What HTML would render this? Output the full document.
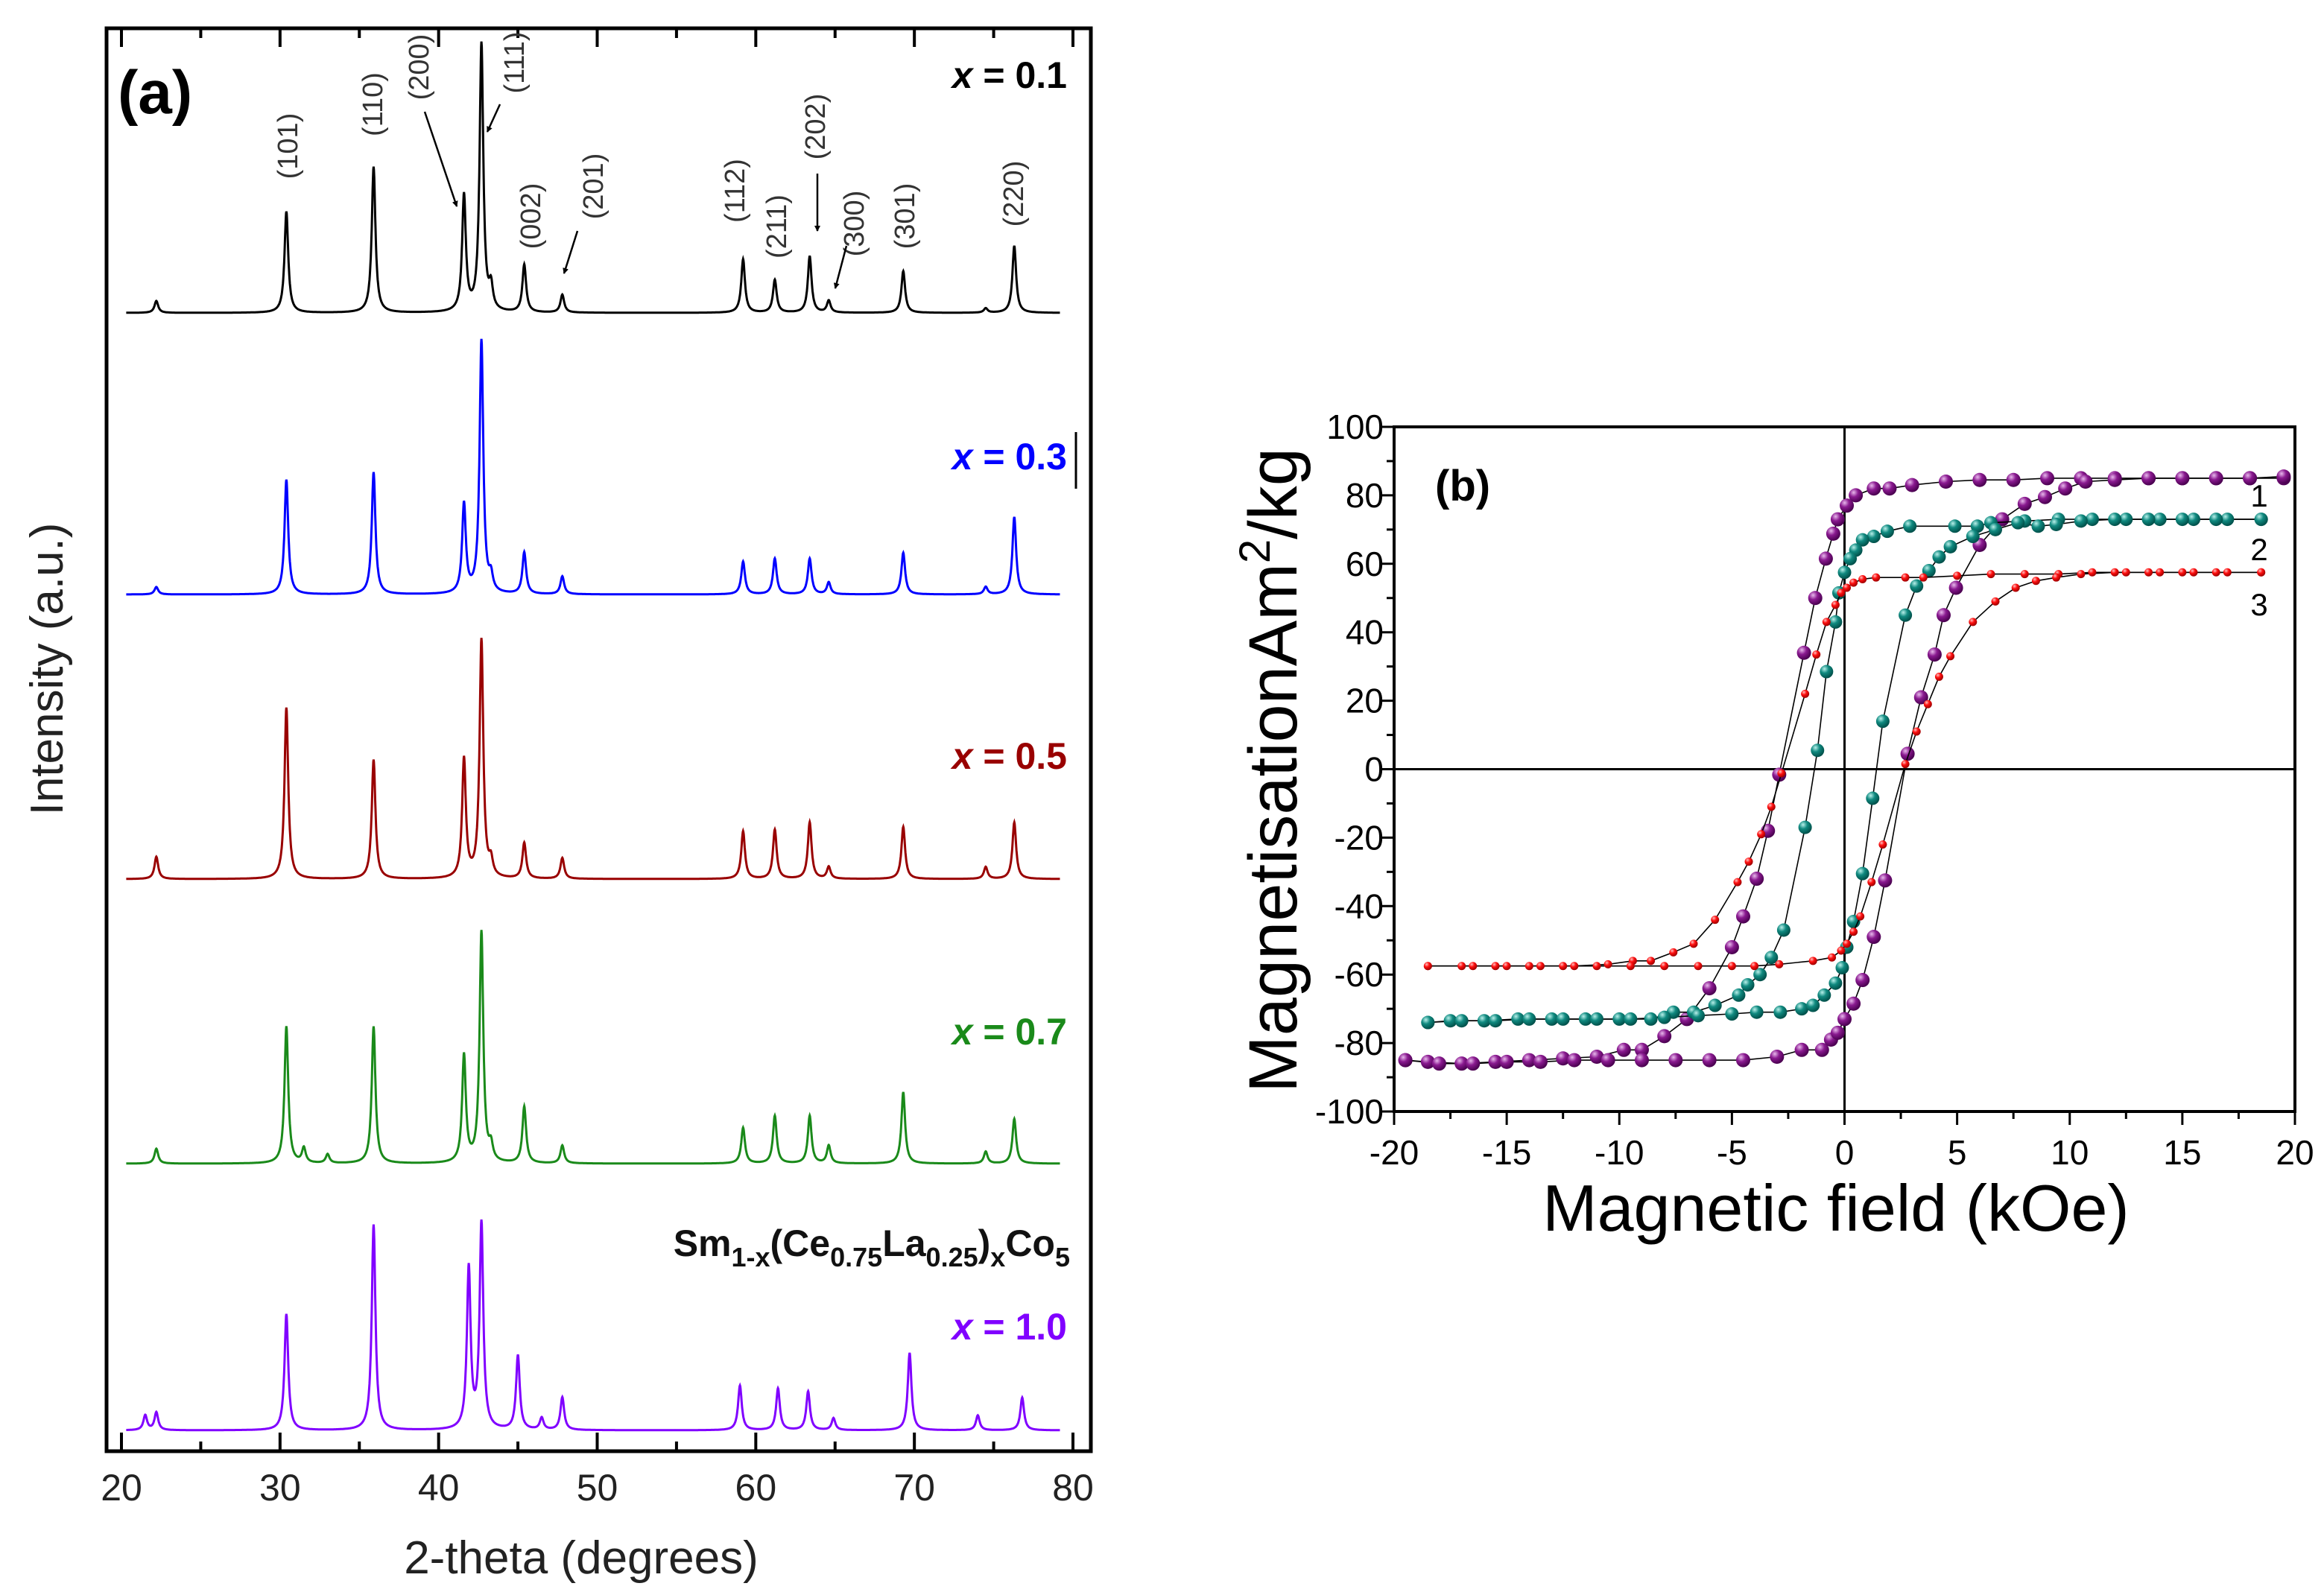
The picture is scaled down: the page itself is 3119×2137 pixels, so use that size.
<!DOCTYPE html>
<html><head><meta charset="utf-8"><style>
html,body{margin:0;padding:0;background:#fff;}
svg{display:block;font-family:"Liberation Sans",Arial,sans-serif;}
</style></head><body>
<svg id="fig" width="3119" height="2137" viewBox="0 0 3119 2137" xmlns="http://www.w3.org/2000/svg">
<defs>
<radialGradient id="gP" cx="35%" cy="30%" r="70%"><stop offset="0" stop-color="#e8b8ec"/><stop offset="0.45" stop-color="#8a1a90"/><stop offset="1" stop-color="#4a0050"/></radialGradient>
<radialGradient id="gT" cx="35%" cy="30%" r="70%"><stop offset="0" stop-color="#b8f0ea"/><stop offset="0.45" stop-color="#108a80"/><stop offset="1" stop-color="#00504a"/></radialGradient>
<radialGradient id="gR" cx="35%" cy="30%" r="70%"><stop offset="0" stop-color="#ffc0c0"/><stop offset="0.45" stop-color="#ff1010"/><stop offset="1" stop-color="#a00000"/></radialGradient>
<marker id="ah" markerWidth="8" markerHeight="8" refX="7" refY="4" orient="auto" markerUnits="userSpaceOnUse"><path d="M0,0 L8,4 L0,8 z" fill="#000"/></marker>
</defs>
<g id="panelA"></g>
<g id="panelB"></g>
</svg>
<script>
// ===== Panel (a) data =====
const xrdLabels = ["x = 0.1","x = 0.3","x = 0.5","x = 0.7","x = 1.0"];
const xrdColors = ["#000000","#0000ff","#990000","#1a8a1a","#8000ff"];
const xrdBaselines = [420, 798, 1180, 1562, 1920];
const xrdPeaksA = [22.2,30.4,35.9,41.6,42.7,43.3,45.4,47.8,59.2,61.2,63.4,64.6,69.3,74.5,76.3];
const xrdAmp01 = [8,68,98,78,180,15,32,12,36,22,38,8,28,3,45];
const xrdAmp03 = [5,77,82,60,170,10,28,12,22,24,24,8,28,5,52];
const xrdAmp05 = [15,115,80,80,160,10,24,14,32,33,38,8,35,8,38];
const xrdPeaks07 = [22.2,30.4,31.5,33.0,35.9,41.6,42.7,43.3,45.4,47.8,59.2,61.2,63.4,64.6,69.3,74.5,76.3];
const xrdAmp07 = [10,92,10,6,92,72,155,10,38,12,24,32,32,12,48,8,30];
const xrdPeaks10 = [21.5,22.2,30.4,35.9,41.9,42.7,45.0,46.5,47.8,59.0,61.4,63.3,64.9,69.7,74.0,76.8];
const xrdAmp10 = [10,12,78,138,108,138,50,8,22,30,28,26,8,52,10,22];
const xrdXTicks = [20,30,40,50,60,70,80];
const millerLabels = ["(101)","(110)","(200)","(111)","(002)","(201)","(112)","(211)","(202)","(300)","(301)","(220)"];
const millerX = [386,500,562,690,712,796,986,1042,1094,1146,1214,1360];
const millerY = [196,140,90,84,290,250,256,304,170,300,290,260];

// ===== Panel (b) data =====
const hTicks = [-20,-15,-10,-5,0,5,10,15,20];
const mTicks = [-100,-80,-60,-40,-20,0,20,40,60,80,100];
const h1Down = [19.5,18,16.5,15,13.5,12,10.5,9,7.5,6,4.5,3,2,1.3,0.5,0.1,-0.3,-0.5,-0.83,-1.3,-1.8,-2.9,-3.4,-3.9,-4.5,-5,-6,-7,-8,-9,-9.8,-11,-12.5,-14,-15.5,-17,-18.5,-19.5];
const m1Down = [85,85,85,85,85,85,85,85,84.5,84.5,84,83,82,82,80,77,73,68.8,61.5,50,34,-1.6,-18,-32,-43,-52,-64,-73,-78,-82,-82,-84,-84.5,-85,-85.5,-86,-85.5,-85];
const h1Up = [-19.5,-18,-16.5,-15,-13.5,-12,-10.5,-9,-7.5,-6,-4.5,-3,-1.9,-1,-0.6,-0.3,0,0.4,0.8,1.3,1.8,2.8,3.4,4,4.4,4.95,6,7,8,8.9,9.8,10.7,12,13.5,15,16.5,18,19.5];
const m1Up = [-85,-86,-86,-85.5,-85.5,-85,-85,-85,-85,-85,-85,-84,-82,-82,-79,-77,-73,-68.5,-61.6,-49,-32.5,4.5,21,33.5,45,53,65.5,73,77.5,79.5,82,84,84.5,85,85,85,85,85.5];
const h2Down = [18.5,17,15.5,14,12.5,11,9.5,8,6.5,5.9,4.9,2.9,1.9,1.3,0.8,0.5,0.25,0,-0.25,-0.4,-0.8,-1.2,-1.75,-2.7,-3.25,-3.75,-4.3,-4.7,-5.75,-6.7,-7.6,-8.6,-10,-11.5,-13,-14.5,-16,-17.5,-18.5];
const m2Down = [73,73,73,73,73,73,73,72.5,72,71,71,71,69.5,68,67,64,61.5,57.5,51.5,43,28.5,5.5,-17,-47,-55,-60,-63,-66,-69,-71,-71,-73,-73,-73,-73,-73,-73.5,-73.5,-74];
const h2Up = [-18.5,-17,-15.5,-14,-12.5,-11,-9.5,-8,-6.5,-5,-3.9,-2.85,-1.9,-1.4,-0.9,-0.4,-0.1,0.1,0.4,0.8,1.25,1.7,2.7,3.2,3.75,4.2,4.7,5.7,6.7,7.7,8.6,9.4,10.5,12,13.5,15,16.5,18.5];
const m2Up = [-74,-73.5,-73.5,-73,-73,-73,-73,-72.5,-72,-71.5,-71,-71,-70,-69,-66,-62.5,-58,-52,-44.5,-30.5,-8.5,14,45,53.5,58,62,65,68,70,72,71,71.5,72.5,73,73,73,73,73];
const h3Down = [18.5,17,15.5,14,12.5,11,9.5,8,6.5,5,3.5,2.7,1.4,0.8,0.4,0.1,-0.15,-0.4,-0.8,-1.25,-1.75,-2.8,-3.25,-3.7,-4.25,-4.75,-5.75,-6.7,-7.6,-8.6,-9.4,-10.5,-12,-13.5,-15,-16.5,-18.5];
const m3Down = [57.5,57.5,57.5,57.5,57.5,57.5,57,57,57,56.5,56,56,56,55.5,54.5,53,51.5,48,43,33.5,22,-1.2,-11,-19,-27,-33,-44,-51,-53.5,-56,-56,-57,-57.5,-57.5,-57.5,-57.5,-57.5];
const h3Up = [-18.5,-17,-15.5,-14,-12.5,-11,-9.5,-8,-6.5,-5,-4,-2.9,-1.4,-0.56,-0.15,0.1,0.4,0.7,1.2,1.7,2.7,3.2,3.7,4.2,4.7,5.7,6.7,7.6,8.5,9.4,10.5,12,13.5,15,16.5,18.5];
const m3Up = [-57.5,-57.5,-57.5,-57.5,-57.5,-57.5,-57.5,-57.5,-57.5,-57.5,-57.5,-57,-56,-55,-53,-51,-47.5,-43,-33,-22,1.5,11,19,27,33,43,49,53,55,56,57,57.5,57.5,57.5,57.5,57.5];

const NS="http://www.w3.org/2000/svg";
function mk(tag, attrs, parent, text){const e=document.createElementNS(NS,tag);for(const k in attrs)e.setAttribute(k,attrs[k]);if(text!==undefined)e.textContent=text;parent.appendChild(e);return e;}

// ===== Panel (a) =====
const A=document.getElementById('panelA');
const aL=143,aR=1464,aT=38,aB=1948;
const xA=v=>163+(v-20)*(1440-163)/60;
const xrdSets=[[xrdPeaksA,xrdAmp01],[xrdPeaksA,xrdAmp03],[xrdPeaksA,xrdAmp05],[xrdPeaks07,xrdAmp07],[xrdPeaks10,xrdAmp10]];
const w=0.14;
xrdSets.forEach((s,i)=>{
  let d="";
  for(let t=20.3;t<=79.2;t+=0.02){
    let I=0; for(let k=0;k<s[0].length;k++){const u=(t-s[0][k])/w; I+=s[1][k]/(1+u*u);}
    const y=xrdBaselines[i]-2*I;
    d+=(d?"L":"M")+xA(t).toFixed(1)+","+y.toFixed(1);
  }
  const p=mk('path',{d:d,fill:'none',stroke:xrdColors[i],'stroke-width':3},A);
  
  
});
const fa=mk('rect',{x:aL,y:aT,width:aR-aL,height:aB-aT,fill:'none',stroke:'#000','stroke-width':5},A);


for(let v=20;v<=80;v+=5){
  const x=xA(v),len=(v%10===0)?25:13;
  mk('line',{x1:x,y1:aB,x2:x,y2:aB-len,stroke:'#000','stroke-width':4},A);
  mk('line',{x1:x,y1:aT,x2:x,y2:aT+len,stroke:'#000','stroke-width':4},A);
}
xrdXTicks.forEach(v=>{
  const t=mk('text',{x:xA(v),y:2014,'font-size':50,'text-anchor':'middle',fill:'#222'},A,String(v));
  
  
});
const xt=mk('text',{x:780,y:2112,'font-size':62,'text-anchor':'middle',fill:'#222'},A,"2-theta (degrees)");


const yt=mk('text',{x:0,y:0,'font-size':62,'text-anchor':'middle',fill:'#222',transform:'translate(84,898) rotate(-90)'},A,"Intensity (a.u.)");


const pa=mk('text',{x:158,y:152,'font-size':82,'font-weight':'bold',fill:'#000'},A,"(a)");


const lblY=[118,630,1032,1402,1798];
xrdLabels.forEach((s,i)=>{
  const t=mk('text',{x:1432,y:lblY[i],'font-size':50,'font-weight':'bold','text-anchor':'end',fill:xrdColors[i]},A);
  mk('tspan',{'font-style':'italic'},t,"x");
  mk('tspan',{},t," "+s.slice(2));
  
  
});
mk('line',{x1:1444,y1:580,x2:1444,y2:656,stroke:'#000','stroke-width':3},A);
const f=mk('text',{x:1436,y:1686,'font-size':50,'font-weight':'bold','text-anchor':'end',fill:'#111'},A);


[["Sm",0],["1-x",1],["(Ce",0],["0.75",1],["La",0],["0.25",1],[")",0],["x",1],["Co",0],["5",1]].forEach(p=>{
  mk('tspan',p[1]?{'font-size':36,dy:14}:{'font-size':50,dy:-14},f,p[0]);
});
f.firstChild.setAttribute('dy',0);
millerLabels.forEach((s,i)=>{
  const t=mk('text',{x:0,y:0,'font-size':38,'text-anchor':'middle',fill:'#333',transform:`translate(${millerX[i]+13},${millerY[i]}) rotate(-90)`},A,s);
  
  
});
[[570,150,613,277],[671,140,654,177],[775,310,757,367],[1097,233,1097,310],[1136,330,1121,387]].forEach(a=>{
  const l=mk('line',{x1:a[0],y1:a[1],x2:a[2],y2:a[3],stroke:'#000','stroke-width':2.5,'marker-end':'url(#ah)'},A);
  
  
});

// ===== Panel (b) =====
const B=document.getElementById('panelB');
const bL=1871,bR=3080,bT=573,bB=1492;
const xB=v=>bL+(v+20)*(bR-bL)/40;
const yB=v=>bB-(v+100)*(bB-bT)/200;
const fb=mk('rect',{x:bL,y:bT,width:bR-bL,height:bB-bT,fill:'none',stroke:'#000','stroke-width':4},B);


mk('line',{x1:xB(0),y1:bT,x2:xB(0),y2:bB,stroke:'#000','stroke-width':3},B);
mk('line',{x1:bL,y1:yB(0),x2:bR,y2:yB(0),stroke:'#000','stroke-width':3},B);
for(let v=-20;v<=20;v+=2.5){const len=(v%5===0)?18:10;mk('line',{x1:xB(v),y1:bB,x2:xB(v),y2:bB+len,stroke:'#000','stroke-width':3},B);}
for(let v=-100;v<=100;v+=10){const len=(v%20===0)?18:10;mk('line',{x1:bL,y1:yB(v),x2:bL-len,y2:yB(v),stroke:'#000','stroke-width':3},B);}
hTicks.forEach(v=>{
  const t=mk('text',{x:xB(v),y:1563,'font-size':46,'text-anchor':'middle',fill:'#000'},B,String(v));
  
  
});
mTicks.forEach(v=>{
  const t=mk('text',{x:1857,y:yB(v)+16,'font-size':46,'text-anchor':'end',fill:'#000'},B,String(v));
  
  
});
const bx=mk('text',{x:2464,y:1652,'font-size':88,'text-anchor':'middle',fill:'#000'},B,"Magnetic field (kOe)");


const by=mk('text',{x:0,y:0,'font-size':92,'text-anchor':'middle',fill:'#000',transform:'translate(1740,1034) rotate(-90)'},B);


mk('tspan',{},by,"MagnetisationAm");mk('tspan',{'font-size':58,dy:-36},by,"2");mk('tspan',{dy:36},by,"/kg");
const pb=mk('text',{x:1926,y:672,'font-size':58,'font-weight':'bold',fill:'#000'},B,"(b)");


[["1",680],["2",752],["3",826]].forEach(n=>{
  const t=mk('text',{x:3032,y:n[1],'font-size':42,'text-anchor':'middle',fill:'#000'},B,n[0]);
  
  
});
const loops=[[h1Down,m1Down,h1Up,m1Up,'url(#gP)',9.5,'loop-1'],[h2Down,m2Down,h2Up,m2Up,'url(#gT)',9,'loop-2'],[h3Down,m3Down,h3Up,m3Up,'url(#gR)',5.5,'loop-3']];
loops.forEach(L=>{
  [[L[0],L[1]],[L[2],L[3]]].forEach(br=>{
    let d="";br[0].forEach((h,k)=>{d+=(k?"L":"M")+xB(h).toFixed(1)+","+yB(br[1][k]).toFixed(1);});
    const p=mk('path',{d:d,fill:'none',stroke:'#000','stroke-width':1.6},B);
    
    
  });
  [[L[0],L[1]],[L[2],L[3]]].forEach(br=>{
    br[0].forEach((h,k)=>{
      const c=mk('circle',{cx:xB(h),cy:yB(br[1][k]),r:L[5],fill:L[4]},B);
      
      
    });
  });
});
</script>
</body></html>
